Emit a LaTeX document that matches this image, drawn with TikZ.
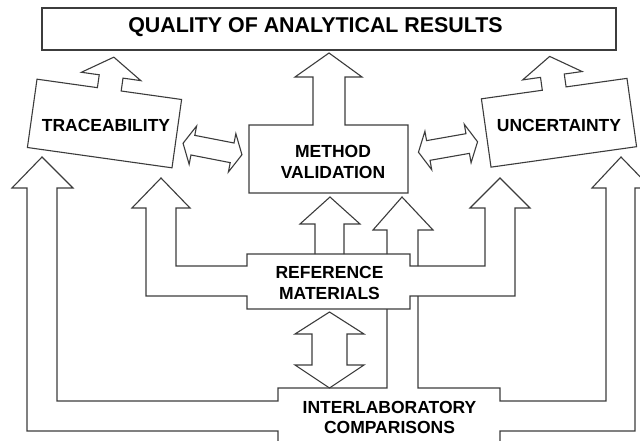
\documentclass[tikz,border=0pt]{standalone}
\usepackage{fontspec}
\setmainfont{Liberation Sans}
\definecolor{linecolor}{RGB}{60,60,60}

\begin{document}
\begin{tikzpicture}[x=1pt,y=-1pt,
    outline/.style={draw=linecolor,line width=1.1pt,line join=miter},
    boxtext/.style={font=\fontsize{17.5}{21}\selectfont\bfseries,align=center,inner sep=0pt}]
  \fill[white] (0,0) rectangle (640,441);
  \clip (0,0) rectangle (640,441);
  % result box on top
  \draw[outline] (42,8) rectangle (616,50);
  \node[font=\fontsize{21.4}{25}\selectfont\bfseries,inner sep=0pt] (quality) at (315.5,27) {QUALITY OF ANALYTICAL RESULTS};
  % tilted side boxes with their up arrows
  \begin{scope}[shift={(104.5,123.5)},rotate=-8]
    \draw[outline] (-73,-34.5) -- (-12,-34.5) -- (-12,-47.5) -- (-30,-47.5) -- (0,-67) -- (30,-47.5)
      -- (12,-47.5) -- (12,-34.5) -- (73,-34.5) -- (73,34.5) -- (-73,34.5) -- cycle;
  \end{scope}
  \begin{scope}[shift={(559,122.75)},rotate=8]
    \draw[outline] (-73.5,-34.5) -- (-12,-34.5) -- (-12,-47.5) -- (-30,-47.5) -- (0,-67) -- (30,-47.5)
      -- (12,-47.5) -- (12,-34.5) -- (73.5,-34.5) -- (73.5,34.5) -- (-73.5,34.5) -- cycle;
  \end{scope}
  \node[boxtext] (trace) at (106,125) {TRACEABILITY};
  \node[boxtext] (unc) at (559,125) {UNCERTAINTY};
  % method validation
  \draw[outline] (249,125) -- (313,125) -- (313,77) -- (295,77) -- (329,53) -- (362,77) -- (345,77)
    -- (345,125) -- (408,125) -- (408,193) -- (249,193) -- cycle;
  \node[boxtext] (method) at (333,161.5) {METHOD\\VALIDATION};
  % double arrows beside method validation
  \begin{scope}[shift={(212.5,149)},rotate=-11]
    \draw[outline] (-30,0) -- (-20,-19.5) -- (-20,-10) -- (20,-10) -- (20,-19.5) -- (30,0)
      -- (20,19.5) -- (20,10) -- (-20,10) -- (-20,19.5) -- cycle;
  \end{scope}
  \begin{scope}[shift={(448,147)},rotate=10]
    \draw[outline] (-30,0) -- (-20,-19.5) -- (-20,-10) -- (20,-10) -- (20,-19.5) -- (30,0)
      -- (20,19.5) -- (20,10) -- (-20,10) -- (-20,19.5) -- cycle;
  \end{scope}
  % reference materials with side pipes
  \draw[outline] (247,254) -- (410,254) -- (410,266) -- (485,266) -- (485,208) -- (470,208) -- (500,178)
    -- (530,208) -- (515,208) -- (515,296) -- (410,296) -- (410,309) -- (247,309) -- (247,296)
    -- (146,296) -- (146,208) -- (132,208) -- (161,178) -- (190,208) -- (176,208) -- (176,266)
    -- (247,266) -- cycle;
  \draw[outline] (315,254) -- (315,224) -- (300,224) -- (330,197) -- (360,224) -- (344,224) -- (344,254);
  \draw[outline] (387,254) -- (387,230) -- (373,230) -- (402,197) -- (433,230) -- (418,230) -- (418,266);
  \node[boxtext] (refmat) at (329.5,282.5) {REFERENCE\\MATERIALS};
  % double arrow down to the comparisons
  \draw[outline] (329.5,312) -- (364,334) -- (347,334) -- (347,365) -- (364,365) -- (329.5,388)
    -- (295,365) -- (312,365) -- (312,334) -- (295,334) -- cycle;
  % interlaboratory comparisons with outer pipes
  \draw[outline] (387,309) -- (387,388) -- (278,388) -- (278,401) -- (57,401) -- (57,188) -- (73,188)
    -- (42,157) -- (12,188) -- (27,188) -- (27,431) -- (278,431) -- (278,470) -- (500,470)
    -- (500,431) -- (635,431) -- (635,188) -- (651,188) -- (621,157) -- (592,188) -- (606,188)
    -- (606,401) -- (500,401) -- (500,388) -- (418,388) -- (418,296);
  \node[boxtext,font=\fontsize{17.5}{20}\selectfont\bfseries] (interlab) at (389.5,417) {INTERLABORATORY\\COMPARISONS};
\end{tikzpicture}
\end{document}
